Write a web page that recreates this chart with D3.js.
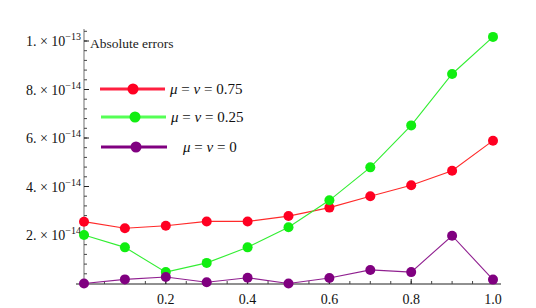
<!DOCTYPE html>
<html><head><meta charset="utf-8">
<script src="https://cdn.jsdelivr.net/npm/d3@7"></script>
<style>body{margin:0;background:#fff}svg{display:block}</style>
</head><body>
<script>
const xs = [0,0.1,0.2,0.3,0.4,0.5,0.6,0.7,0.8,0.9,1.0];
const red = [2.55,2.28,2.38,2.56,2.56,2.78,3.13,3.60,4.05,4.65,5.89];
const green = [2.0,1.49,0.47,0.85,1.49,2.32,3.43,4.79,6.52,8.64,10.17];
const purple = [0,0.17,0.27,0.05,0.24,0,0.23,0.56,0.47,1.97,0.16];
const yTicks = [2,4,6,8,10];
const yTickLabels = [["2.","−14"],["4.","−14"],["6.","−14"],["8.","−14"],["1.","−13"]];
const xTicks = [0.2,0.4,0.6,0.8,1.0];
const legendLabels = ["0.75","0.25","0"];
const seriesList = [
  {vals: red, line:"#ff2a2a", pt:"#ff0022", leg:"#ff2040"},
  {vals: green, line:"#33ee33", pt:"#11ee11", leg:"#55ff55"},
  {vals: purple, line:"#902090", pt:"#800080", leg:"#800080"}
];

const W=536,H=308;
const svg=d3.select("body").append("svg").attr("width",W).attr("height",H);
const x=d3.scaleLinear().domain([0,1]).range([84,493]);
const y=d3.scaleLinear().domain([0,10]).range([283.5,41]);

const axCol="#888";
svg.append("line").attr("x1",76).attr("x2",501).attr("y1",284).attr("y2",284).attr("stroke","#222").attr("stroke-width",1.2);
svg.append("line").attr("x1",84).attr("x2",84).attr("y1",29).attr("y2",284).attr("stroke",axCol).attr("stroke-width",1.2);

const yMinor=d3.range(0,10.5,0.4);
svg.selectAll(".ymin").data(yMinor).join("line")
  .attr("x1",84).attr("x2",87).attr("y1",d=>y(d)).attr("y2",d=>y(d)).attr("stroke","#444").attr("stroke-width",1);
svg.selectAll(".ymaj").data(yTicks).join("line")
  .attr("x1",84).attr("x2",89).attr("y1",d=>y(d)).attr("y2",d=>y(d)).attr("stroke","#222").attr("stroke-width",1);
const xMinor=d3.range(0.05,1.001,0.05);
svg.selectAll(".xmin").data(xMinor).join("line")
  .attr("x1",d=>x(d)).attr("x2",d=>x(d)).attr("y1",284).attr("y2",281).attr("stroke","#444").attr("stroke-width",1);
svg.selectAll(".xmaj").data(xTicks).join("line")
  .attr("x1",d=>x(d)).attr("x2",d=>x(d)).attr("y1",284).attr("y2",279).attr("stroke","#222").attr("stroke-width",1);

const font="'Liberation Serif','DejaVu Serif',serif";
svg.selectAll(".xl").data(xTicks).join("text")
  .attr("x",d=>x(d)).attr("y",304).attr("text-anchor","middle")
  .attr("font-family",font).attr("font-size",14).attr("fill","#111").text(d=>d.toFixed(1));

const yl=svg.selectAll(".yl").data(yTicks).join("text")
  .attr("x",81).attr("y",d=>y(d)+5).attr("text-anchor","end")
  .attr("font-family",font).attr("font-size",14).attr("fill","#111");
yl.each(function(d,i){
  const t=d3.select(this);
  t.append("tspan").text(yTickLabels[i][0]+" × 10");
  t.append("tspan").attr("dy",-6).attr("font-size",10).text(yTickLabels[i][1]);
});

svg.append("text").attr("x",90).attr("y",48).attr("font-family",font).attr("font-size",13.5).attr("fill","#222").text("Absolute errors");

const line=d3.line().x((d,i)=>x(xs[i])).y(d=>y(d));
seriesList.forEach(s=>{
  svg.append("path").attr("d",line(s.vals)).attr("fill","none").attr("stroke",s.line).attr("stroke-width",1.1);
  svg.selectAll(null).data(s.vals).join("circle")
    .attr("cx",(d,i)=>x(xs[i])).attr("cy",d=>y(d)).attr("r",5).attr("fill",s.pt);
});

const legY=[89,117,147];
const legX=[[100,165,133,170],[101,166,135,171],[101,167,136,183]];
seriesList.forEach((s,i)=>{
  svg.append("line").attr("x1",legX[i][0]).attr("x2",legX[i][1]).attr("y1",legY[i]).attr("y2",legY[i]).attr("stroke",s.leg).attr("stroke-width",3);
  svg.append("circle").attr("cx",legX[i][2]).attr("cy",legY[i]).attr("r",5.5).attr("fill",s.pt);
  const t=svg.append("text").attr("x",legX[i][3]).attr("y",legY[i]+5).attr("font-family",font).attr("font-size",15).attr("fill","#111");
  t.append("tspan").attr("font-style","italic").text("μ");
  t.append("tspan").text(" = ");
  t.append("tspan").attr("font-style","italic").text("ν");
  t.append("tspan").text(" = "+legendLabels[i]);
});
</script>
</body></html>
